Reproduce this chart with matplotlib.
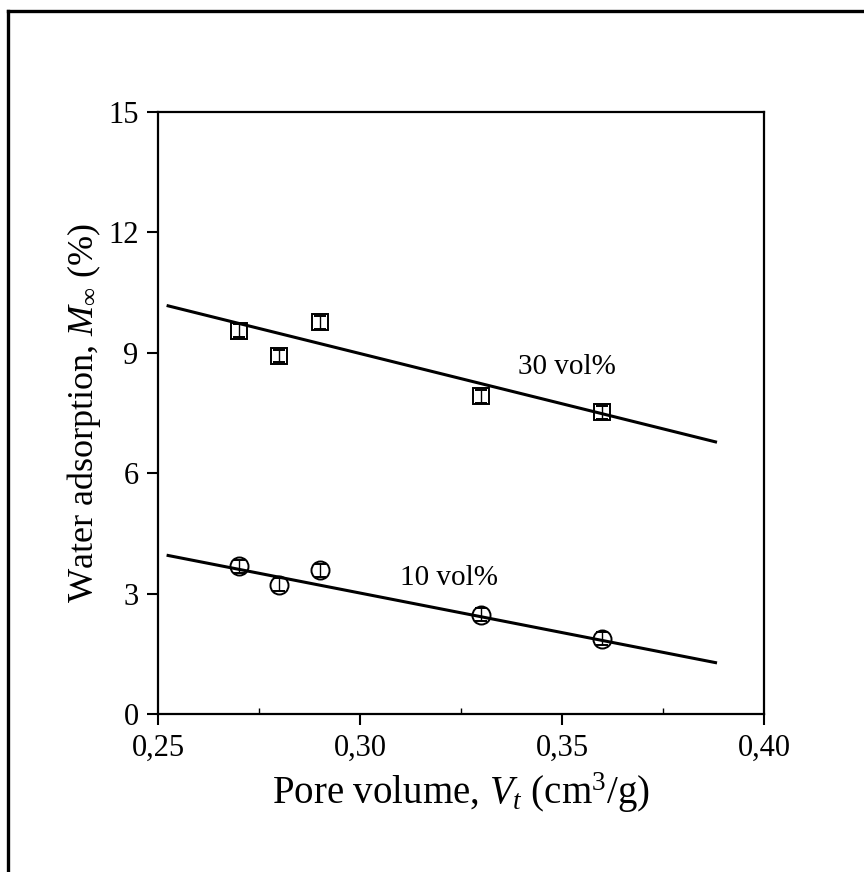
import matplotlib
matplotlib.use('Agg')
import matplotlib.pyplot as plt
from matplotlib.lines import Line2D
from matplotlib.ticker import MultipleLocator, FuncFormatter

plt.rcParams['font.family'] = ['Liberation Serif', 'DejaVu Serif']
plt.rcParams['mathtext.fontset'] = 'custom'
plt.rcParams['mathtext.rm'] = 'Liberation Serif'
plt.rcParams['mathtext.it'] = 'Liberation Serif:italic'

# pore volume of the samples (cm3/g)
pore_volume = [0.27, 0.28, 0.29, 0.33, 0.36]
# water adsorption (%) for the two filler contents
ads_30 = [9.55, 8.92, 9.76, 7.92, 7.52]
ads_10 = [3.68, 3.22, 3.58, 2.47, 1.88]
err_30 = [0.16, 0.16, 0.16, 0.16, 0.16]
err_10 = [0.16, 0.16, 0.16, 0.16, 0.16]

# straight fit lines (endpoints)
fit_x = [0.2525, 0.388]
fit_30 = [10.17, 6.78]
fit_10 = [3.95, 1.28]

x_ticks = [0.25, 0.30, 0.35, 0.40]
y_ticks = [0, 3, 6, 9, 12, 15]

fig = plt.figure(figsize=(8.64, 8.72), dpi=100)
ax = fig.add_axes([158 / 864, 1 - 714 / 872, (764 - 158) / 864, (714 - 112) / 872])

# outer frame (only left and top edges visible)
fig.add_artist(Line2D([8 / 864, 8 / 864], [0, 1 - 11 / 872], color='black', lw=2.4))
fig.add_artist(Line2D([8 / 864, 1], [1 - 11 / 872, 1 - 11 / 872], color='black', lw=2.4))

ax.plot(fit_x, fit_30, color='black', lw=2.2)
ax.plot(fit_x, fit_10, color='black', lw=2.2)

ax.errorbar(pore_volume, ads_30, yerr=err_30, fmt='s', ms=12, mfc='none', mec='black',
            mew=1.4, ecolor='black', elinewidth=1.0, capsize=4, capthick=1.0, zorder=3)
ax.errorbar(pore_volume, ads_10, yerr=err_10, fmt='o', ms=13, mfc='none', mec='black',
            mew=1.4, ecolor='black', elinewidth=1.0, capsize=4, capthick=1.0, zorder=3)

ax.text(0.339, 8.65, '30 vol%', fontsize=21, va='center')
ax.text(0.31, 3.4, '10 vol%', fontsize=21, va='center')

ax.set_xlim(0.25, 0.40)
ax.set_ylim(0, 15)
ax.set_xticks(x_ticks)
ax.set_yticks(y_ticks)
ax.xaxis.set_minor_locator(MultipleLocator(0.025))
ax.xaxis.set_major_formatter(FuncFormatter(lambda v, p: f'{v:.2f}'.replace('.', ',')))

ax.tick_params(axis='both', which='major', direction='out', length=8, width=1.5,
               labelsize=22, pad=6)
ax.tick_params(axis='x', which='minor', direction='in', length=4, width=1.0)
for s in ax.spines.values():
    s.set_linewidth(1.6)

ax.set_xlabel(r'Pore volume, $V_t$ (cm$^3$/g)', fontsize=28, labelpad=6)
ax.set_ylabel(r'Water adsorption, $M_\infty$ (%)', fontsize=26)
ax.yaxis.set_label_coords(-0.09, 0.5)

fig.savefig('out.png', dpi=100)
